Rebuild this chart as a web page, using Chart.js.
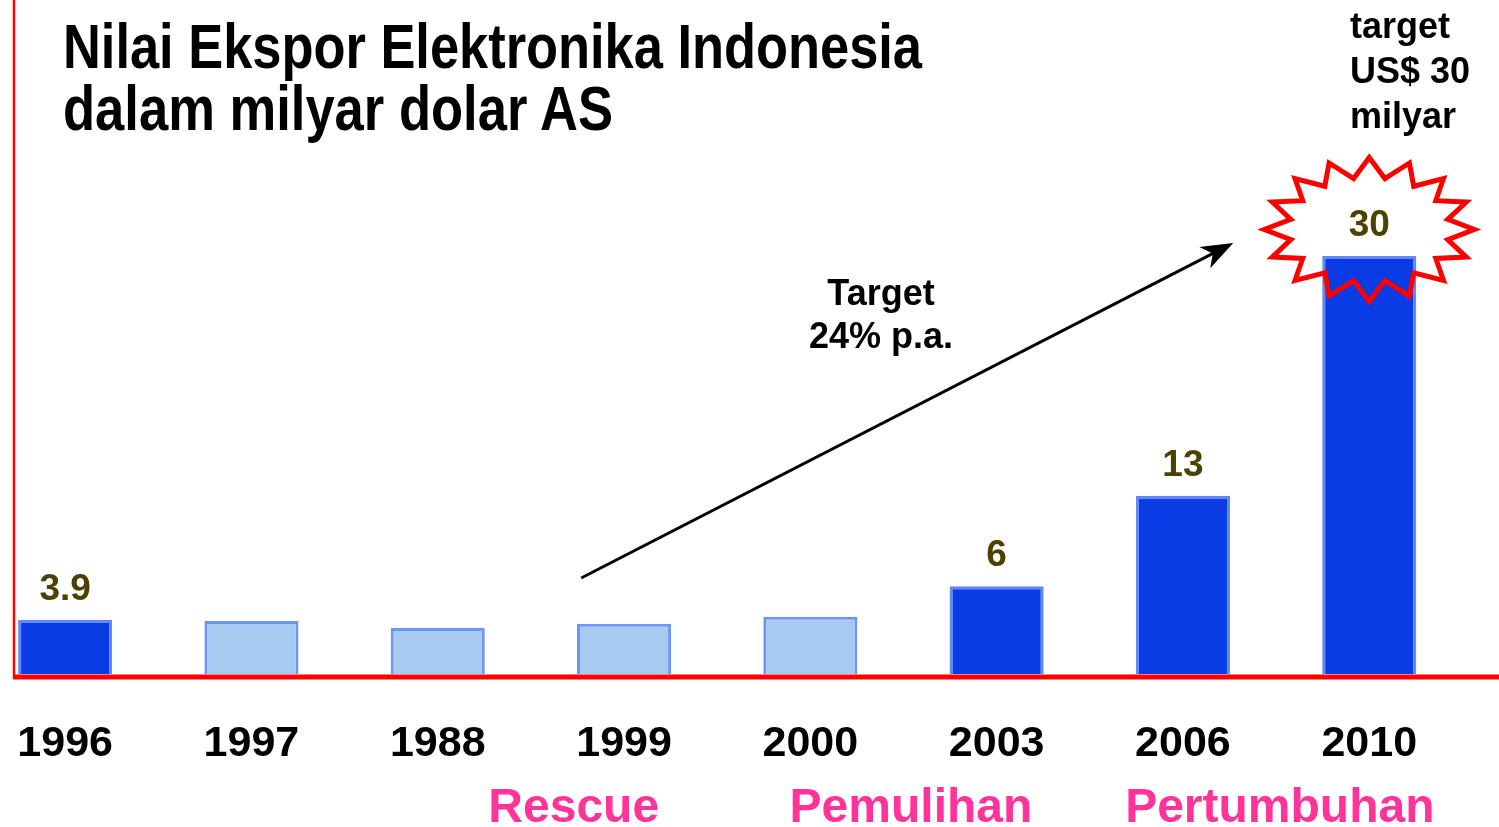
<!DOCTYPE html>
<html lang="id">
<head>
<meta charset="utf-8">
<title>Nilai Ekspor Elektronika Indonesia</title>
<script src="https://cdn.jsdelivr.net/npm/chart.js@4.4.1/dist/chart.umd.min.js"></script>
<style>
    html, body { margin: 0; padding: 0; width: 1499px; height: 827px; overflow: hidden; background: #fff; }
    /* canvas is shifted left so the first category can start left of the red axis */
    #chartWrap { position: absolute; left: -42px; top: 0; width: 1541px; height: 827px; }
    .txt { position: absolute; font-family: "Liberation Sans", Arial, sans-serif; font-weight: bold; white-space: nowrap; color: #000; }
    .title { font-family: "Liberation Sans Narrow", "Arial Narrow", "Liberation Sans", sans-serif; font-size: 63px; line-height: 63px; left: 63px; transform-origin: 0 0; }
    .phase { font-size: 48px; line-height: 48px; top: 782px; color: #ff3399; transform: translateX(-50%); }
</style>
</head>
<body>
<div id="chartWrap"><canvas id="chartCanvas"></canvas></div>

<div class="txt title" id="title1" style="top:15px">Nilai Ekspor Elektronika Indonesia</div>
<div class="txt title" id="title2" style="top:77px">dalam milyar dolar AS</div>
<div class="txt" style="left:1350px; top:3px; font-size:36px; line-height:45px;">target<br>US$ 30<br>milyar</div>
<div class="txt" style="left:681px; width:400px; text-align:center; top:271px; font-size:36px; line-height:43px;">Target<br>24% p.a.</div>
<div id="phaseContainer"></div>

<script>
// Chart data
const years = ['1996', '1997', '1988', '1999', '2000', '2003', '2006', '2010'];
const exportValues = [3.9, 3.8, 3.3, 3.6, 4.1, 6.3, 12.8, 30];
const valueLabels = ['3.9', '', '', '', '', '6', '13', '30'];
const phaseNames = ['Rescue', 'Pemulihan', 'Pertumbuhan'];

// Styling
const CANVAS_SHIFT = 42;
const darkFill = '#0a3ce6', darkBorder = '#6089f5';
const lightFill = '#a8caf0', lightBorder = '#6b95fa';
const labelColor = '#4b4200';
const phaseAt = [2.73, 4.54, 6.52];   // x position (in category units) of each phase label

// Bars with a printed value are the solid dark ones
const isDark = valueLabels.map(l => l !== '');

// Plugin drawing the red axes, value labels, the growth arrow and the starburst
const decorPlugin = {
    id: 'decor',
    afterDatasetsDraw(chart) {
        const ctx = chart.ctx;
        const xs = chart.scales.x, ys = chart.scales.y;
        const base = ys.getPixelForValue(0);
        ctx.save();

        // red axis lines
        ctx.strokeStyle = '#ff0000';
        ctx.lineWidth = 2.5;
        ctx.beginPath();
        ctx.moveTo(CANVAS_SHIFT + 14, 0);
        ctx.lineTo(CANVAS_SHIFT + 14, base + 5);
        ctx.stroke();
        ctx.lineWidth = 5;
        ctx.beginPath();
        ctx.moveTo(CANVAS_SHIFT + 13, base + 3);
        ctx.lineTo(chart.width, base + 3);
        ctx.stroke();

        // starburst round the 2010 bar
        const cx = xs.getPixelForValue(7), cy = ys.getPixelForValue(31.9);
        const n = 16;
        ctx.beginPath();
        for (let i = 0; i < n * 2; i++) {
            const a = -Math.PI / 2 + i * Math.PI / n;
            const rx = i % 2 === 0 ? 105 : 80;
            const ry = i % 2 === 0 ? 72 : 52;
            const px = cx + rx * Math.cos(a), py = cy + ry * Math.sin(a);
            if (i === 0) ctx.moveTo(px, py); else ctx.lineTo(px, py);
        }
        ctx.closePath();
        ctx.strokeStyle = '#ff0000';
        ctx.lineWidth = 5;
        ctx.lineJoin = 'miter';
        ctx.stroke();

        // value labels above the dark bars
        const meta = chart.getDatasetMeta(0);
        ctx.fillStyle = labelColor;
        ctx.font = 'bold 37px "Liberation Sans", Arial, sans-serif';
        ctx.textAlign = 'center';
        ctx.textBaseline = 'alphabetic';
        meta.data.forEach((bar, i) => {
            if (valueLabels[i]) ctx.fillText(valueLabels[i], bar.x, bar.y - 20);
        });

        // growth arrow
        const x0 = xs.getPixelForValue(2.77), y0 = ys.getPixelForValue(6.89);
        const x1 = xs.getPixelForValue(6.27), y1 = ys.getPixelForValue(30.93);
        const ang = Math.atan2(y1 - y0, x1 - x0);
        ctx.strokeStyle = '#000';
        ctx.lineWidth = 3;
        ctx.beginPath();
        ctx.moveTo(x0, y0);
        ctx.lineTo(x1 - 20 * Math.cos(ang), y1 - 20 * Math.sin(ang));
        ctx.stroke();
        ctx.translate(x1, y1);
        ctx.rotate(ang);
        ctx.fillStyle = '#000';
        ctx.beginPath();
        ctx.moveTo(0, 0);
        ctx.lineTo(-32, -12);
        ctx.lineTo(-23, 0);
        ctx.lineTo(-32, 12);
        ctx.closePath();
        ctx.fill();

        ctx.restore();
    }
};

let chart;

function loadChart() {
    try {
        const ctx = document.getElementById('chartCanvas').getContext('2d');
        chart = new Chart(ctx, {
            type: 'bar',
            data: {
                labels: years,
                datasets: [{
                    data: exportValues,
                    backgroundColor: isDark.map(d => d ? darkFill : lightFill),
                    borderColor: isDark.map(d => d ? darkBorder : lightBorder),
                    borderWidth: 3,
                    borderSkipped: 'bottom',
                    barPercentage: 0.505,
                    categoryPercentage: 1
                }]
            },
            options: {
                responsive: true,
                maintainAspectRatio: false,
                animation: false,
                layout: { padding: { left: CANVAS_SHIFT - 28, right: 36.6, top: 256, bottom: 0 } },
                plugins: { legend: { display: false }, tooltip: { enabled: false }, title: { display: false } },
                scales: {
                    x: {
                        grid: { display: false },
                        border: { display: false },
                        ticks: {
                            color: '#000',
                            font: { family: '"Liberation Sans", Arial, sans-serif', size: 43, weight: 'bold' },
                            padding: 36,
                            maxRotation: 0,
                            autoSkip: false
                        },
                        afterFit: scale => { scale.height = 153; }
                    },
                    y: { display: false, min: 0, max: 30 }
                }
            },
            plugins: [decorPlugin]
        });
    } catch (e) {
        console.error(e);
    }
}

// Place phase labels under the category axis
function placePhases() {
    const xs = chart.scales.x;
    const container = document.getElementById('phaseContainer');
    phaseNames.forEach((name, i) => {
        const div = document.createElement('div');
        div.className = 'txt phase';
        div.textContent = name;
        div.style.left = (xs.getPixelForValue(phaseAt[i]) - CANVAS_SHIFT) + 'px';
        container.appendChild(div);
    });
}

// Stretch the condensed title lines to the widths in the reference
function fitTitle(id, width) {
    const el = document.getElementById(id);
    const w = el.getBoundingClientRect().width;
    el.style.transform = `scaleX(${width / w})`;
}

loadChart();
placePhases();
fitTitle('title1', 859);
fitTitle('title2', 550);
</script>
</body>
</html>
